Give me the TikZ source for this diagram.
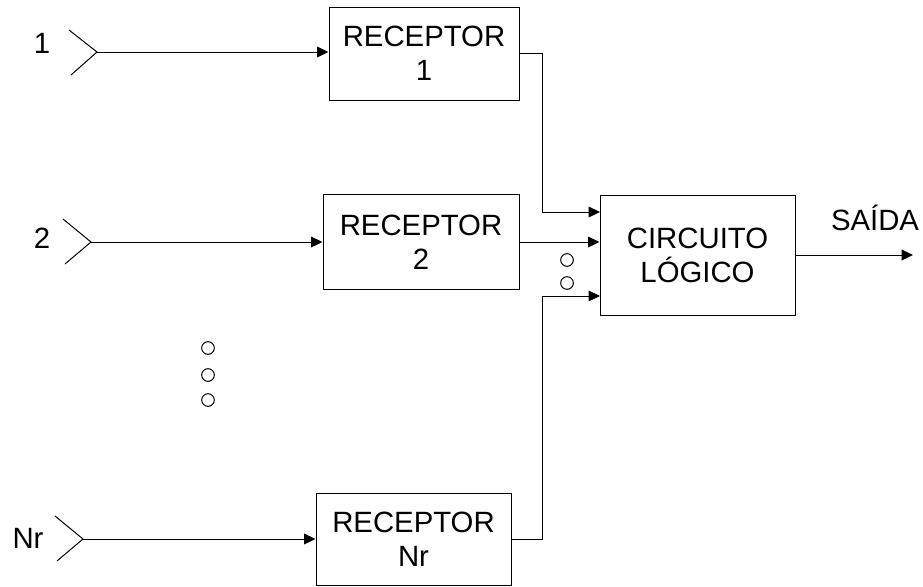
\documentclass[tikz,border=0pt]{standalone}
\usepackage{fontspec}
\setmainfont{Liberation Sans}
\usetikzlibrary{arrows.meta}

\tikzset{every picture/.style={line width=0.75pt}}
\tikzset{
  block/.style={draw, rectangle, inner sep=0pt, align=center, font=\fontsize{22}{25.5}\selectfont},
  sig/.style={-{Triangle[length=8.5pt,width=8pt]}},
  lbl/.style={inner sep=0pt, font=\fontsize{22}{25.5}\selectfont},
  dot/.style={draw, circle, minimum size=9.5pt, inner sep=0pt}
}

\begin{document}
\begin{tikzpicture}[
            x=0.75pt,
            y=0.75pt,
            yscale=-1,
            xscale=1,
            line width=0.75pt
        ]
            \useasboundingbox (0,0) rectangle (923,586);

            % receptores e circuito
            \node [block, minimum width=142.5pt, minimum height=69.75pt] (rec1) at (424,53.5) {RECEPTOR\\1};
            \node [block, minimum width=147pt, minimum height=71.25pt] (rec2) at (421,242) {RECEPTOR\\2};
            \node [block, minimum width=146.25pt, minimum height=69pt] (recN) at (413.5,539) {RECEPTOR\\Nr};
            \node [block, minimum width=146.25pt, minimum height=90pt] (logic) at (697.5,255) {CIRCUITO\\LÓGICO};

            % antenas
            \coordinate (ant1) at (97,52);
            \coordinate (ant2) at (91,242);
            \coordinate (antN) at (83,539);
            \draw (69,30) -- (ant1) -- (71,75);
            \draw (63,219) -- (ant2) -- (65,264);
            \draw (55,516) -- (antN) -- (57,561);
            \node [lbl] (n1) at (42,43) {1};
            \node [lbl] (n2) at (42,238) {2};
            \node [lbl] (nN) at (28,538) {Nr};

            \draw [sig] (ant1) -- (ant1 -| rec1.west);
            \draw [sig] (ant2) -- (ant2 -| rec2.west);
            \draw [sig] (antN) -- (antN -| recN.west);

            % entradas do circuito
            \coordinate (in1) at (600,212);
            \coordinate (in3) at (600,296);
            \draw [sig] (rec1.east) -- ++(23,0) |- (in1);
            \draw [sig] (rec2.east) -- (rec2.east -| logic.west);
            \draw [sig] (recN.east) -- ++(31,0) |- (in3);

            % saida
            \coordinate (out) at (913,255);
            \draw [sig] (logic.east) -- (out);
            \node [lbl, anchor=base] (said) at (875,230) {SAÍDA};

            % pontos
            \node [dot] (p1) at (208,348) {};
            \node [dot] (p2) at (208,375) {};
            \node [dot] (p3) at (208,400) {};
            \node [dot] (q1) at (567,260) {};
            \node [dot] (q2) at (567,283) {};
        \end{tikzpicture}
\end{document}
